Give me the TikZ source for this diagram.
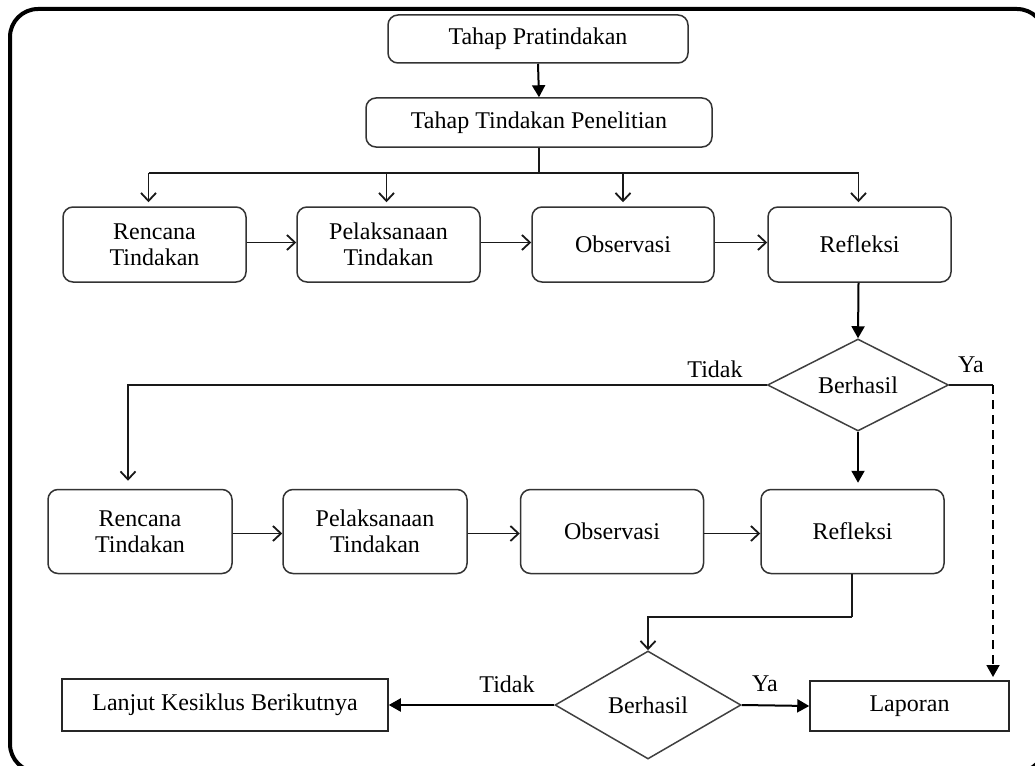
\documentclass[tikz,border=0pt]{standalone}
\usepackage{fontspec}
\setmainfont{Liberation Serif}
\usetikzlibrary{arrows.meta,shapes.geometric}
\begin{document}
\begin{tikzpicture}[x=1pt,y=-1pt,
  font=\fontsize{24}{26}\selectfont,
  rbox/.style={draw=black!80, line width=1.5pt, rounded corners=10pt, align=center, inner sep=0pt},
  sbox/.style={draw=black!85, line width=1.5pt, align=center, inner sep=0pt},
  dec/.style={draw=black!75, line width=1.5pt, diamond, aspect=2, inner sep=0pt},
  oarr/.style={draw=black!90, line width=1.8pt, -{Straight Barb[length=8pt,width=15pt,line width=1.8pt]}},
  farr/.style={draw=black, line width=2pt, -{Triangle[length=12pt,width=13pt]}},
  plain/.style={draw=black!90, line width=1.6pt},
  lbl/.style={inner sep=0pt}
  ]
\useasboundingbox (0,0) rectangle (1035,765);
\draw[line width=4pt, rounded corners=28pt] (10,9) rectangle (1045,772);

% top
\node[rbox, minimum width=300pt, minimum height=48pt] (pra) at (538,39) {Tahap Pratindakan};
\node[rbox, minimum width=346pt, minimum height=49pt] (tind) at (539,122.5) {Tahap Tindakan Penelitian};

% row 1
\node[rbox, minimum width=183pt, minimum height=75pt] (r1) at (154.5,244.5) {Rencana\\Tindakan};
\node[rbox, minimum width=183pt, minimum height=75pt] (p1) at (388.5,244.5) {Pelaksanaan\\Tindakan};
\node[rbox, minimum width=182pt, minimum height=75pt] (o1) at (623,244.5) {Observasi};
\node[rbox, minimum width=183pt, minimum height=75pt] (f1) at (859.5,244.5) {Refleksi};

% decision 1
\node[dec, minimum width=181pt, minimum height=92pt] (d1) at (858,385) {Berhasil};

% row 2
\node[rbox, minimum width=184pt, minimum height=84pt] (r2) at (140,531.5) {Rencana\\Tindakan};
\node[rbox, minimum width=184pt, minimum height=84pt] (p2) at (375,531.5) {Pelaksanaan\\Tindakan};
\node[rbox, minimum width=183pt, minimum height=84pt] (o2) at (612,531.5) {Observasi};
\node[rbox, minimum width=183pt, minimum height=84pt] (f2) at (852.5,531.5) {Refleksi};

% decision 2 and outputs
\node[dec, minimum width=186pt, minimum height=108pt] (d2) at (648,705) {Berhasil};
\node[sbox, minimum width=326pt, minimum height=52pt] (lanjut) at (225,705) {Lanjut Kesiklus Berikutnya};
\node[sbox, minimum width=199pt, minimum height=50pt] (lapor) at (909.5,706) {Laporan};

% labels
\node[lbl] (t1) at (715,369) {Tidak};
\node[lbl] (y1) at (971,365) {Ya};
\node[lbl] (t2) at (507,684) {Tidak};
\node[lbl] (y2) at (765,684) {Ya};

% connectors
\draw[farr] (pra.south) -- (tind.north);
\coordinate (br) at (539,173);
\draw[plain] (tind.south) -- (br);
\draw[plain] ([xshift=-6pt]r1.north |- br) -- ([xshift=-1pt]f1.north |- br);
\draw[oarr, shorten >=4pt] ([xshift=-6pt]r1.north |- br) -- ([xshift=-6pt]r1.north);
\draw[oarr, shorten >=4pt] ([xshift=-2pt]p1.north |- br) -- ([xshift=-2pt]p1.north);
\draw[oarr, shorten >=4pt] (o1.north |- br) -- (o1.north);
\draw[oarr, shorten >=4pt] ([xshift=-1pt]f1.north |- br) -- ([xshift=-1pt]f1.north);

\draw[oarr] ([yshift=2pt]r1.east) -- ([yshift=2pt]p1.west);
\draw[oarr] ([yshift=2pt]p1.east) -- ([yshift=2pt]o1.west);
\draw[oarr] ([yshift=2pt]o1.east) -- ([yshift=2pt]f1.west);

\draw[farr] ([xshift=-1pt]f1.south) -- (d1.north);

\draw[oarr, shorten >=8pt] (d1.west) -| ([xshift=-12pt]r2.north);
\coordinate (yc) at (993,385);
\coordinate (yend) at (993,677);
\draw[plain] (d1.east) -- (yc);
\draw[farr, dashed, dash pattern=on 9pt off 6pt, line width=1.8pt] (yc) -- (yend);

\draw[farr, shorten >=6pt] (d1.south) -- (d1.south |- f2.north);

\draw[oarr] ([yshift=-2pt]r2.east) -- ([yshift=-2pt]p2.west);
\draw[oarr] ([yshift=-2pt]p2.east) -- ([yshift=-2pt]o2.west);
\draw[oarr] ([yshift=-2pt]o2.east) -- ([yshift=-2pt]f2.west);

\coordinate (bend) at (852,617);
\draw[plain] ([xshift=-0.5pt]f2.south) -- (bend);
\draw[oarr] (bend) -| (d2.north);

\draw[farr] (d2.west) -- (lanjut.east);
\draw[farr] (d2.east) -- (lapor.west);
\end{tikzpicture}
\end{document}
